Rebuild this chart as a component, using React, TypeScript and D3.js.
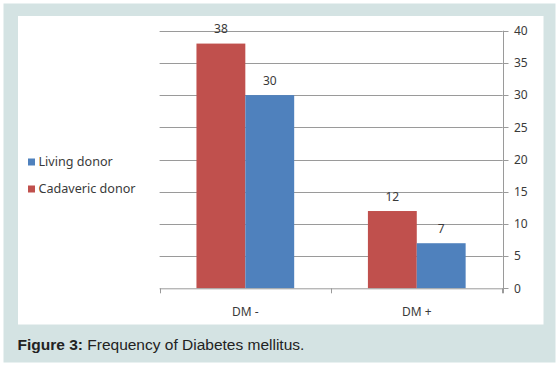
import {useEffect, useRef} from 'react';
import * as d3 from 'd3';

const categories = ['DM -', 'DM +'];
const seriesNames = ['Cadaveric donor', 'Living donor'];
const cadavericValues = [38, 12];
const livingValues = [30, 7];
const yTicks = [0, 5, 10, 15, 20, 25, 30, 35, 40];

export default function App() {
  const svgRef = useRef<SVGSVGElement>(null);

  useEffect(() => {
    if (!svgRef.current) return;
    const width = 559;
    const height = 366;
    const svg = d3.select(svgRef.current);
    svg.selectAll('*').remove();
    svg.attr('width', width).attr('height', height).attr('viewBox', [0, 0, width, height]);

    const colors = {
      page: '#ffffff',
      panel: '#d4e3e3',
      plot: '#ffffff',
      grid: '#9a9a9a',
      text: '#3a3a3a',
      cadaveric: '#c0504d',
      living: '#4f81bd',
      caption: '#222222',
    };
    const font = '"Noto Sans", "Open Sans", sans-serif';

    svg.append('rect').attr('width', width).attr('height', height).attr('fill', colors.page);
    svg.append('rect').attr('x', 3.5).attr('y', 3.5).attr('width', 552).attr('height', 359).attr('fill', colors.panel);
    svg.append('rect').attr('x', 18).attr('y', 16).attr('width', 525.5).attr('height', 308.5).attr('fill', colors.plot);

    const left = 159.6;
    const right = 502.5;
    const top = 30.7;
    const bottom = 288.3;

    const x0 = d3.scaleBand<string>().domain(categories).range([left, right]).paddingInner(0.43).paddingOuter(0.215);
    const x1 = d3.scaleBand<string>().domain(seriesNames).range([0, x0.bandwidth()]);
    const y = d3.scaleLinear().domain([0, 40]).range([bottom, top]);

    // gridlines
    svg
      .append('g')
      .selectAll('line')
      .data(yTicks.filter((d) => d > 0))
      .join('line')
      .attr('x1', left)
      .attr('x2', right)
      .attr('y1', (d) => Math.round(y(d)) + 0.5)
      .attr('y2', (d) => Math.round(y(d)) + 0.5)
      .attr('stroke', colors.grid)
      .attr('stroke-width', 1);

    // bars
    const groups = svg
      .append('g')
      .selectAll('g')
      .data(categories.map((c, i) => ({c, vals: [cadavericValues[i], livingValues[i]]})))
      .join('g')
      .attr('transform', (d) => `translate(${x0(d.c)},0)`);

    groups
      .selectAll('rect')
      .data((d) => d.vals.map((v, j) => ({name: seriesNames[j], v})))
      .join('rect')
      .attr('x', (d) => x1(d.name)!)
      .attr('width', x1.bandwidth())
      .attr('y', (d) => y(d.v))
      .attr('height', (d) => y(0) - y(d.v))
      .attr('fill', (d) => (d.name === 'Cadaveric donor' ? colors.cadaveric : colors.living));

    groups
      .selectAll('text')
      .data((d) => d.vals.map((v, j) => ({name: seriesNames[j], v})))
      .join('text')
      .attr('x', (d) => x1(d.name)! + x1.bandwidth() / 2)
      .attr('y', (d) => y(d.v) - 10.5)
      .attr('text-anchor', 'middle')
      .attr('fill', colors.text)
      .attr('font-family', font)
      .attr('font-size', '12px')
      .text((d) => d.v);

    // category axis
    const xAxis = svg.append('g');
    xAxis
      .append('line')
      .attr('x1', left)
      .attr('x2', right)
      .attr('y1', bottom + 0.5)
      .attr('y2', bottom + 0.5)
      .attr('stroke', colors.grid);
    const boundaries = [left, ...categories.map((c) => x0(c)! + x0.bandwidth() + (x0.step() - x0.bandwidth()) / 2)];
    xAxis
      .selectAll('line.tick')
      .data(boundaries)
      .join('line')
      .attr('class', 'tick')
      .attr('x1', (d) => Math.round(d) + 0.5)
      .attr('x2', (d) => Math.round(d) + 0.5)
      .attr('y1', bottom)
      .attr('y2', bottom + 5)
      .attr('stroke', colors.grid);
    xAxis
      .selectAll('text')
      .data(categories)
      .join('text')
      .attr('x', (d) => x0(d)! + x0.bandwidth() / 2)
      .attr('y', 316)
      .attr('text-anchor', 'middle')
      .attr('fill', colors.text)
      .attr('font-family', font)
      .attr('font-size', '12px')
      .text((d) => d);

    // right value axis
    const yAxis = svg.append('g');
    yAxis
      .append('line')
      .attr('x1', Math.round(right) + 0.5)
      .attr('x2', Math.round(right) + 0.5)
      .attr('y1', top)
      .attr('y2', bottom + 5)
      .attr('stroke', colors.grid);
    yAxis
      .selectAll('line.tick')
      .data(yTicks)
      .join('line')
      .attr('class', 'tick')
      .attr('x1', right)
      .attr('x2', right + 6)
      .attr('y1', (d) => Math.round(y(d)) + 0.5)
      .attr('y2', (d) => Math.round(y(d)) + 0.5)
      .attr('stroke', colors.grid);
    yAxis
      .selectAll('text')
      .data(yTicks)
      .join('text')
      .attr('x', 514)
      .attr('y', (d) => y(d))
      .attr('dy', '0.35em')
      .attr('fill', colors.text)
      .attr('font-family', font)
      .attr('font-size', '12px')
      .text((d) => d);

    // legend
    const legendItems = [
      {name: 'Living donor', color: colors.living, y: 162},
      {name: 'Cadaveric donor', color: colors.cadaveric, y: 189},
    ];
    const legend = svg.append('g').selectAll('g').data(legendItems).join('g');
    legend
      .append('rect')
      .attr('x', 28)
      .attr('y', (d) => d.y - 3.5)
      .attr('width', 7)
      .attr('height', 7)
      .attr('fill', (d) => d.color);
    legend
      .append('text')
      .attr('x', 38.5)
      .attr('y', (d) => d.y)
      .attr('dy', '0.35em')
      .attr('fill', colors.text)
      .attr('font-family', font)
      .attr('font-size', '12.6px')
      .text((d) => d.name);

    // caption
    const caption = svg
      .append('text')
      .attr('x', 17.5)
      .attr('y', 349.5)
      .attr('fill', colors.caption)
      .attr('font-family', '"Liberation Sans", Arial, sans-serif')
      .attr('font-size', '15.5px');
    caption.append('tspan').attr('font-weight', 'bold').text('Figure 3:');
    caption.append('tspan').text(' Frequency of Diabetes mellitus.');
  }, []);

  return <svg ref={svgRef} style={{position: 'absolute', left: 0, top: 0, display: 'block'}} />;
}
